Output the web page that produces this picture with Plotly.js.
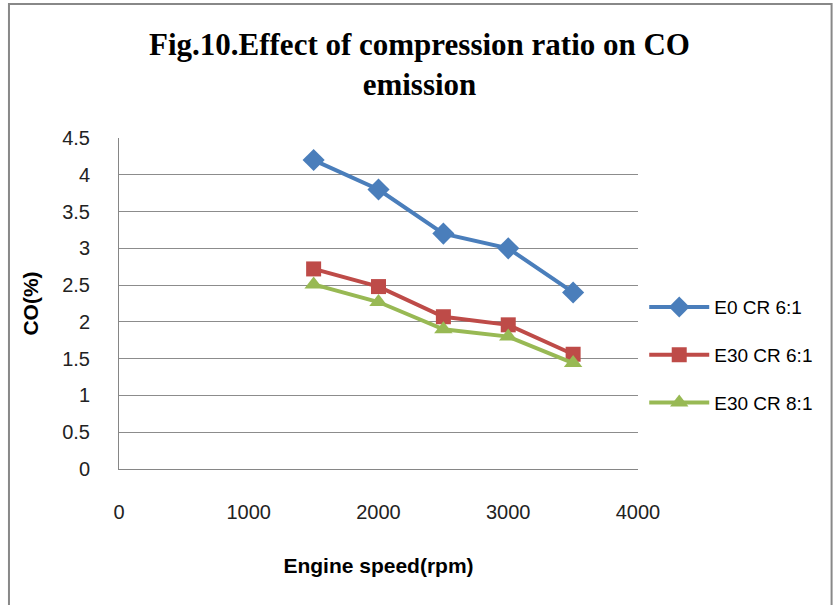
<!DOCTYPE html>
<html><head><meta charset="utf-8">
<script src="https://cdn.plot.ly/plotly-3.0.1.min.js"></script>
<style>html,body{margin:0;padding:0;background:#fff}#chart{width:839px;height:605px}</style>
</head><body><div id="chart"></div>
<script>
const speed = [1500, 2000, 2500, 3000, 3500];
const e0cr6 = [4.2, 3.8, 3.2, 3.0, 2.4];
const e30cr6 = [2.72, 2.48, 2.07, 1.96, 1.56];
const e30cr8 = [2.51, 2.27, 1.90, 1.80, 1.44];
const names = ["E0 CR 6:1", "E30 CR 6:1", "E30 CR 8:1"];
const xTicks = [0, 1000, 2000, 3000, 4000];
const yTicks = [0, 0.5, 1, 1.5, 2, 2.5, 3, 3.5, 4, 4.5];

const mk = (y, name, color, symbol, size, g) => ({
  x: speed, y: y, name: name, type: 'scatter', mode: 'lines+markers', legendgroup: g,
  line: {color: color, width: 4},
  marker: {color: color, symbol: symbol, size: size}
});
const data = [
  mk(e0cr6, names[0], '#4a7ebb', 'diamond', 17, 'a'),
  mk(e30cr6, names[1], '#be4b48', 'square', 15, 'b'),
  mk(e30cr8, names[2], '#98b954', 'triangle-up', 16, 'c')
];
const layout = {
  width: 839, height: 605,
  margin: {l: 119, r: 201, t: 138, b: 136},
  paper_bgcolor: '#fff', plot_bgcolor: '#fff',
  font: {family: 'Liberation Sans, Arial, sans-serif', color: '#000'},
  title: {text: '<b>Fig.10.Effect of compression ratio on CO<br>emission</b>',
          font: {family: 'Liberation Serif, Times New Roman, serif', size: 31, color: '#000'},
          x: 0.5, xref: 'container', xanchor: 'center', y: 0.909, yanchor: 'middle'},
  xaxis: {range: [0, 4000], tickvals: xTicks, ticktext: xTicks.map(String),
          showgrid: false, zeroline: false, showline: true, linecolor: '#868686', linewidth: 1,
          ticks: '', ticklabelstandoff: 25,
          tickfont: {size: 20, color: '#222'},
          title: {text: '<b>Engine speed(rpm)</b>', font: {size: 21, color: '#000'}, standoff: 36}},
  yaxis: {range: [0, 4.5], tickvals: yTicks, ticktext: yTicks.map(String),
          showgrid: true, gridcolor: '#8c8c8c', gridwidth: 1, zeroline: false,
          showline: true, linecolor: '#868686', linewidth: 1,
          ticks: '', ticklabelstandoff: 24,
          tickfont: {size: 20, color: '#222'},
          title: {text: '<b>CO(%)</b>', font: {size: 21, color: '#000'}, standoff: 17}},
  legend: {x: 1.012, xanchor: 'left', y: 0.344, yanchor: 'middle', traceorder: 'grouped',
           font: {size: 19, color: '#000'}, tracegroupgap: 20, itemwidth: 60},
  shapes: [{type: 'rect', xref: 'paper', yref: 'paper', x0: -0.212, x1: 1.373, y0: -0.42, y1: 1.405,
            line: {color: '#888', width: 2}, fillcolor: 'rgba(0,0,0,0)', layer: 'below'}]
};
Plotly.newPlot('chart', data, layout, {displayModeBar: false, staticPlot: true});
</script></body></html>
